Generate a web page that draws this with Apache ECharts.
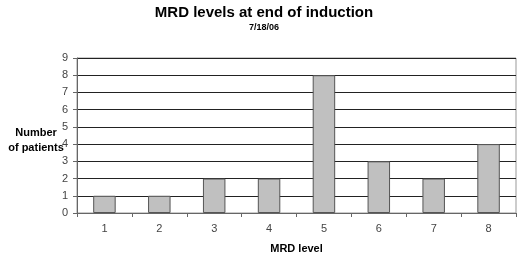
<!DOCTYPE html>
<html lang="en" style="height: 100%">
<head>
<meta charset="utf-8">
<title>MRD levels at end of induction</title>
</head>
<body style="height: 100%; margin: 0; background: #fff">
<div id="container" style="width: 520px; height: 259px"></div>
<script type="text/javascript" src="https://cdn.jsdelivr.net/npm/echarts@6/dist/echarts.min.js"></script>
<script type="text/javascript">
var mrdLevels = ['1', '2', '3', '4', '5', '6', '7', '8'];
var patientCounts = [1, 1, 2, 2, 8, 3, 2, 4];

var chart = echarts.init(document.getElementById('container'), null, { renderer: 'canvas' });
var font = '"Liberation Sans", Arial, sans-serif';

var option = {
    animation: false,
    textStyle: { fontFamily: font },
    title: [{
        text: 'MRD levels at end of induction',
        left: 259, top: 0, textAlign: 'center',
        textStyle: { fontSize: 15, fontWeight: 'bold', color: '#000', fontFamily: font }
    }, {
        text: '7/18/06',
        left: 259, top: 18, textAlign: 'center',
        textStyle: { fontSize: 9, fontWeight: 'bold', color: '#000', fontFamily: font }
    }, {
        text: 'Number\nof patients',
        left: 31, top: 120, textAlign: 'center',
        textStyle: { fontSize: 11, fontWeight: 'bold', color: '#000', fontFamily: font, lineHeight: 15 }
    }],
    grid: { left: 77, right: 4, top: 58, bottom: 43, show: true, borderColor: '#999', borderWidth: 1 },
    xAxis: {
        type: 'category',
        data: mrdLevels,
        name: 'MRD level',
        nameLocation: 'middle',
        nameGap: 30,
        nameTextStyle: { fontSize: 11, fontWeight: 'bold', color: '#000' },
        axisLine: { lineStyle: { color: '#666' } },
        axisTick: { show: true, alignWithLabel: false, length: 4, lineStyle: { color: '#666' } },
        axisLabel: { fontSize: 11, color: '#444', margin: 10 }
    },
    yAxis: {
        type: 'value',
        min: 0, max: 9, interval: 1,
        axisLine: { show: true, lineStyle: { color: '#666' } },
        axisTick: { show: true, length: 4, lineStyle: { color: '#666' } },
        axisLabel: { fontSize: 11, color: '#444', margin: 9 },
        splitLine: { lineStyle: { color: '#222', width: 1 } }
    },
    series: [{
        type: 'bar',
        data: patientCounts,
        barWidth: '41%',
        itemStyle: { color: '#c0c0c0', borderColor: '#555', borderWidth: 1 }
    }]
};

chart.setOption(option);
window.addEventListener('resize', chart.resize);
</script>
</body>
</html>
